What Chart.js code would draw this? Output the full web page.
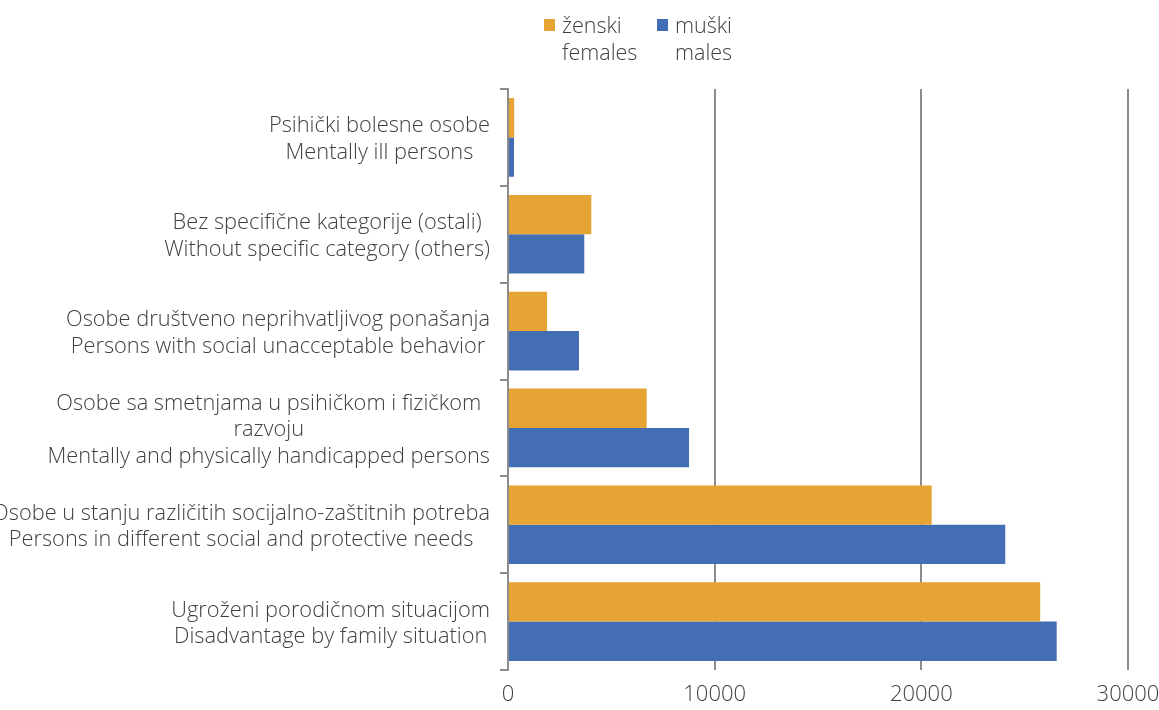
<!DOCTYPE html>
<html>
<head>
<meta charset="utf-8">
<script src="https://cdn.jsdelivr.net/npm/chart.js@4.4.1/dist/chart.umd.min.js"></script>
<style>
  html, body { margin: 0; padding: 0; background: #fff; }
  #wrap { position: relative; width: 1159px; height: 710px; }
  #legend {
    position: absolute; top: 11px; left: 544px; display: flex;
    font-family: "Open Sans", sans-serif; font-weight: 300; font-size: 21.5px; color: #404040; line-height: 27px;
  }
  #legend .item { display: flex; align-items: flex-start; width: 113px; }
  #legend .box { width: 11px; height: 12px; margin-top: 8px; margin-right: 7px; flex: none; }
</style>
</head>
<body>
<div id="wrap">
  <canvas id="chart" width="1159" height="710"></canvas>
  <div id="legend"></div>
</div>
<script>
const categories = [
  ["Psihički bolesne osobe", "Mentally ill persons"],
  ["Bez specifične kategorije (ostali)", "Without specific category (others)"],
  ["Osobe društveno neprihvatljivog ponašanja", "Persons with social unacceptable behavior"],
  ["Osobe sa smetnjama u psihičkom i fizičkom", "razvoju", "Mentally and physically handicapped persons"],
  ["Osobe u stanju različitih socijalno-zaštitnih potreba", "Persons in different social and protective needs"],
  ["Ugroženi porodičnom situacijom", "Disadvantage by family situation"]
];
const females = [300, 4030, 1890, 6710, 20500, 25750];
const males = [290, 3690, 3435, 8760, 24060, 26550];
const seriesLabels = [["ženski", "females"], ["muški", "males"]];
const xTicks = [0, 10000, 20000, 30000];

const FONT = "'Open Sans', sans-serif";
const TEXT = "#404040";
const GRID = "#8c8c8c";

// category labels: block flush right, lines centred to each other
const labelPlugin = {
  id: "catLabels",
  afterDraw(chart) {
    const ctx = chart.ctx;
    const y = chart.scales.y;
    ctx.save();
    ctx.font = "300 21.8px " + FONT;
    ctx.fillStyle = TEXT;
    ctx.textAlign = "center";
    ctx.textBaseline = "middle";
    const lh = 26.5;
    categories.forEach((lines, i) => {
      const w = Math.max(...lines.map((l) => ctx.measureText(l).width));
      const cx = 490 - w / 2;
      const cy = y.getPixelForValue(i) + 2;
      lines.forEach((l, j) => {
        ctx.fillText(l, cx, cy + (j - (lines.length - 1) / 2) * lh);
      });
    });
    ctx.restore();
  },
};

const chart = new Chart(document.getElementById("chart"), {
  type: "bar",
  data: {
    labels: categories.map((c) => c.join(" ")),
    datasets: [
      { label: seriesLabels[0], data: females, backgroundColor: "#e6a434" },
      { label: seriesLabels[1], data: males, backgroundColor: "#446eb3" },
    ],
  },
  options: {
    indexAxis: "y",
    responsive: false,
    animation: false,
    layout: { padding: { top: 89, right: 31, left: 0, bottom: 0 } },
    datasets: { bar: { barPercentage: 1, categoryPercentage: 0.813 } },
    plugins: { legend: { display: false }, tooltip: { enabled: false } },
    scales: {
      x: {
        min: 0,
        max: 30000,
        afterBuildTicks: (s) => { s.ticks = xTicks.map((v) => ({ value: v })); },
        afterFit: (s) => { s.height = 40; s.paddingRight = 0; s.paddingLeft = 0; },
        ticks: {
          font: { family: FONT, size: 22, weight: 300 },
          color: TEXT,
          padding: 12,
          callback: (v) => String(v),
        },
        grid: { color: GRID, lineWidth: 2, drawTicks: false },
        border: { display: false },
      },
      y: {
        afterFit: (s) => { s.width = 508; },
        ticks: { display: false },
        grid: { drawOnChartArea: false, drawTicks: true, tickLength: 8, color: GRID, lineWidth: 2, offset: true },
        border: { display: true, color: GRID, width: 2 },
      },
    },
  },
  plugins: [labelPlugin],
});

// legend
const legend = document.getElementById("legend");
chart.data.datasets.forEach((ds) => {
  const item = document.createElement("div");
  item.className = "item";
  const box = document.createElement("div");
  box.className = "box";
  box.style.background = ds.backgroundColor;
  const txt = document.createElement("div");
  txt.innerHTML = ds.label.join("<br>");
  item.appendChild(box);
  item.appendChild(txt);
  legend.appendChild(item);
});
</script>
</body>
</html>
